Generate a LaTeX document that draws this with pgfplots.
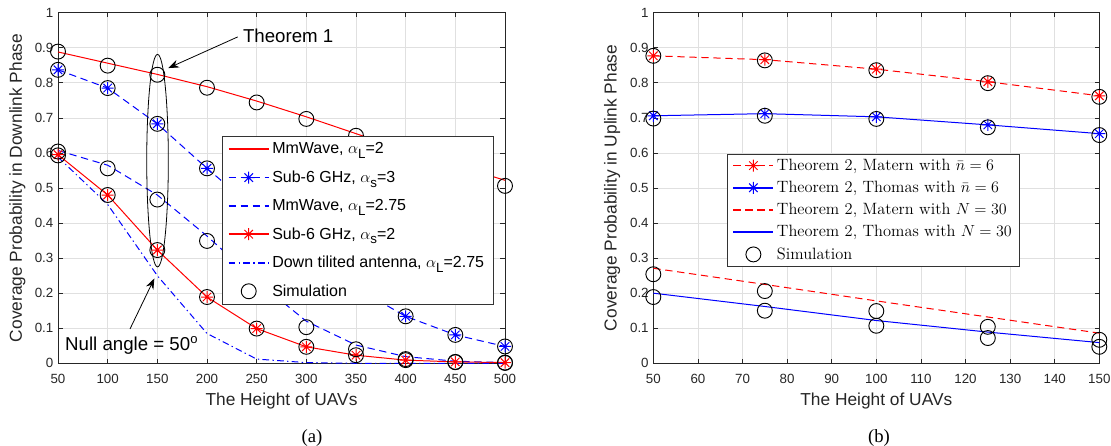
\documentclass[border=0pt]{standalone}
\usepackage[no-math]{fontspec}
\setsansfont{Liberation Sans}
\renewcommand{\familydefault}{\sfdefault}
\newfontfamily\capfont{Liberation Serif}
\usepackage{pgfplots}
\pgfplotsset{compat=1.18}
\usetikzlibrary{arrows.meta}

% MATLAB style asterisk (+ and x together)
\pgfdeclareplotmark{mstar}{%
  \pgfpathmoveto{\pgfqpoint{-\pgfplotmarksize}{0pt}}\pgfpathlineto{\pgfqpoint{\pgfplotmarksize}{0pt}}%
  \pgfpathmoveto{\pgfqpoint{0pt}{-\pgfplotmarksize}}\pgfpathlineto{\pgfqpoint{0pt}{\pgfplotmarksize}}%
  \pgfpathmoveto{\pgfqpoint{-0.707\pgfplotmarksize}{-0.707\pgfplotmarksize}}\pgfpathlineto{\pgfqpoint{0.707\pgfplotmarksize}{0.707\pgfplotmarksize}}%
  \pgfpathmoveto{\pgfqpoint{-0.707\pgfplotmarksize}{0.707\pgfplotmarksize}}\pgfpathlineto{\pgfqpoint{0.707\pgfplotmarksize}{-0.707\pgfplotmarksize}}%
  \pgfusepathqstroke}

\newcommand{\sub}[1]{\raisebox{-0.55ex}{\fontsize{10}{10}\selectfont #1}}

\pgfplotsset{
  mat/.style={
    scale only axis, clip=false,
    axis line style={black!85, line width=0.6pt},
    tick style={black!85, line width=0.5pt},
    tick align=inside, major tick length=3.5pt,
    grid=major, major grid style={black!12, line width=0.5pt},
    ymin=0, ymax=1, ytick={0,0.1,0.2,0.3,0.4,0.5,0.6,0.7,0.8,0.9,1},
    ticklabel style={font=\fontsize{10}{12}\selectfont, text=black!85},
    xticklabel style={yshift=-4.5pt},
    /pgf/number format/assume math mode=true,
    label style={font=\fontsize{13}{15}\selectfont, text=black!85},
    xlabel style={at={(axis description cs:0.5,-0.108)}, anchor=center},
    legend cell align=left,
  },
  % legend samples: line 30pt long (a little heavier so the colour shows), mark in the middle
  lgline/.style={legend image code/.code={%
      \draw[##1, mark=none, line width=1.3pt] (0pt,0pt) -- (30pt,0pt);}},
  lgmark/.style={legend image code/.code={%
      \draw[##1, mark=none, line width=1.3pt] (0pt,0pt) -- (30pt,0pt);
      \draw[##1, solid] plot[only marks] coordinates {(15pt,0pt)};}},
  lgsim/.style={legend image code/.code={%
      \draw[##1] plot[only marks] coordinates {(15pt,0pt)};}},
  dsh/.style={dash pattern=on 5.5pt off 3.5pt},
  dshdot/.style={dash pattern=on 5pt off 2.5pt on 1pt off 2.5pt},
  star/.style={mark=mstar, mark size=4.5pt, mark options={solid, line width=0.75pt}},
  sim/.style={only marks, mark=o, mark size=5.6pt, draw=black, line width=0.7pt},
  redl/.style={draw=red, color=red, line width=0.75pt},
  bluel/.style={draw=blue, color=blue, line width=0.75pt},
}

\begin{document}
\begin{tikzpicture}
\path[use as bounding box] (0,0) rectangle (833.25pt,334.5pt);

% ---------------- (a) downlink ----------------
\begin{axis}[mat,
  at={(43.5pt,62.03pt)}, anchor=south west,
  width=335.25pt, height=262.95pt,
  xmin=50, xmax=500, xtick={50,100,150,200,250,300,350,400,450,500},
  xlabel={The Height of UAVs},
  ylabel={Coverage Probability in Downlink Phase},
  ylabel style={at={(axis description cs:-0.0906,0.5)}, anchor=center},
  legend style={at={(0.366,0.649)}, anchor=north west, draw=black!80, fill=white,
    font=\fontsize{12}{14}\selectfont, row sep=7.2pt, inner xsep=4.5pt, inner ysep=3pt},
]
\addlegendimage{redl, lgline}
\addlegendentry{MmWave, $\alpha$\sub{L}=2}
\addlegendimage{bluel, dsh, star, lgmark}
\addlegendentry{Sub-6 GHz, $\alpha$\sub{s}=3}
\addlegendimage{bluel, dsh, lgline}
\addlegendentry{MmWave, $\alpha$\sub{L}=2.75}
\addlegendimage{redl, star, lgmark}
\addlegendentry{Sub-6 GHz, $\alpha$\sub{s}=2}
\addlegendimage{bluel, dshdot, lgline}
\addlegendentry{Down tilited antenna, $\alpha$\sub{L}=2.75}
\addlegendimage{sim, lgsim}
\addlegendentry{Simulation}

\addplot[redl, forget plot] coordinates {
  (50,0.888) (100,0.856) (150,0.824) (200,0.789) (250,0.748) (300,0.703)
  (350,0.655) (400,0.608) (450,0.565) (500,0.522)};
\addplot[bluel, dsh, star, forget plot] coordinates {
  (50,0.837) (100,0.785) (150,0.683) (200,0.556) (250,0.435) (300,0.320)
  (350,0.215) (400,0.134) (450,0.081) (500,0.048)};
\addplot[bluel, dsh, forget plot] coordinates {
  (50,0.607) (100,0.565) (150,0.480) (200,0.363) (250,0.235) (300,0.120)
  (350,0.052) (400,0.019) (450,0.006) (500,0.002)};
\addplot[redl, star, forget plot] coordinates {
  (50,0.595) (100,0.480) (150,0.323) (200,0.189) (250,0.099) (300,0.047)
  (350,0.023) (400,0.009) (450,0.004) (500,0.002)};
\addplot[bluel, dshdot, forget plot] coordinates {
  (50,0.588) (100,0.453) (150,0.250) (200,0.085) (250,0.012) (300,0.002)
  (350,0) (400,0) (450,0) (500,0)};
% simulation
\addplot[sim, forget plot] coordinates {
  (50,0.889) (100,0.849) (150,0.823) (200,0.786) (250,0.744) (300,0.697)
  (350,0.649) (400,0.600) (450,0.555) (500,0.506)
  (50,0.837) (100,0.785) (150,0.683) (200,0.556) (250,0.435) (300,0.320)
  (350,0.215) (400,0.134) (450,0.081) (500,0.048)
  (50,0.604) (100,0.556) (150,0.467) (200,0.349) (250,0.220) (300,0.103)
  (350,0.040) (400,0.012) (450,0.003) (500,0.001)
  (50,0.593) (100,0.480) (150,0.323) (200,0.189) (250,0.099) (300,0.047)
  (350,0.023) (400,0.009) (450,0.004) (500,0.002)};
% annotations
\draw[black, line width=0.6pt] (axis cs:150.2,0.578) ellipse [x radius=8.1pt, y radius=79.7pt];
\draw[black, line width=0.6pt, -{Stealth[length=8pt,width=6pt]}] (axis cs:231,0.931) -- (axis cs:161,0.842);
\node[anchor=west, font=\fontsize{14}{16}\selectfont, inner sep=0pt] at (axis cs:236,0.933) {Theorem 1};
\draw[black, line width=0.6pt, -{Stealth[length=8pt,width=6pt]}] (axis cs:122.5,0.098) -- (axis cs:147,0.242);
\node[anchor=west, font=\fontsize{14}{16}\selectfont, inner sep=0pt] at (axis cs:57,0.05) {Null angle = 50\textsuperscript{o}};
\end{axis}

% ---------------- (b) uplink ----------------
\begin{axis}[mat,
  at={(490pt,62.03pt)}, anchor=south west,
  width=334.5pt, height=262.95pt,
  xmin=50, xmax=150, xtick={50,60,70,80,90,100,110,120,130,140,150},
  xlabel={The Height of UAVs},
  ylabel={Coverage Probability in Uplink Phase},
  ylabel style={at={(axis description cs:-0.0926,0.5)}, anchor=center},
  legend style={at={(0.165,0.597)}, anchor=north west, draw=black!80, fill=white,
    font=\rmfamily\fontsize{12.3}{13}\selectfont, row sep=2.6pt, inner xsep=4pt, inner ysep=1.5pt},
]
\addlegendimage{redl, dsh, star, lgmark}
\addlegendentry{Theorem 2, Matern with $\bar{n}=6$}
\addlegendimage{bluel, star, lgmark}
\addlegendentry{Theorem 2, Thomas with $\bar{n}=6$}
\addlegendimage{redl, dsh, lgline}
\addlegendentry{Theorem 2, Matern with $N=30$}
\addlegendimage{bluel, lgline}
\addlegendentry{Theorem 2, Thomas with $N=30$}
\addlegendimage{sim, lgsim}
\addlegendentry{Simulation}

\addplot[redl, dsh, star, forget plot] coordinates {
  (50,0.877) (75,0.866) (100,0.839) (125,0.803) (150,0.763)};
\addplot[bluel, star, forget plot] coordinates {
  (50,0.706) (75,0.712) (100,0.703) (125,0.680) (150,0.655)};
\addplot[redl, dsh, forget plot] coordinates {
  (50,0.271) (75,0.225) (100,0.178) (125,0.132) (150,0.086)};
\addplot[bluel, forget plot] coordinates {
  (50,0.200) (75,0.162) (100,0.122) (125,0.089) (150,0.059)};
\addplot[sim, forget plot] coordinates {
  (50,0.877) (75,0.864) (100,0.836) (125,0.799) (150,0.760)
  (50,0.698) (75,0.706) (100,0.697) (125,0.673) (150,0.651)
  (50,0.254) (75,0.206) (100,0.149) (125,0.104) (150,0.067)
  (50,0.189) (75,0.150) (100,0.107) (125,0.072) (150,0.047)};
\end{axis}

\node[font=\capfont\fontsize{14}{16}\selectfont] at (234pt,6pt) {(a)};
\node[font=\capfont\fontsize{14}{16}\selectfont] at (659.25pt,6pt) {(b)};
\end{tikzpicture}
\end{document}
